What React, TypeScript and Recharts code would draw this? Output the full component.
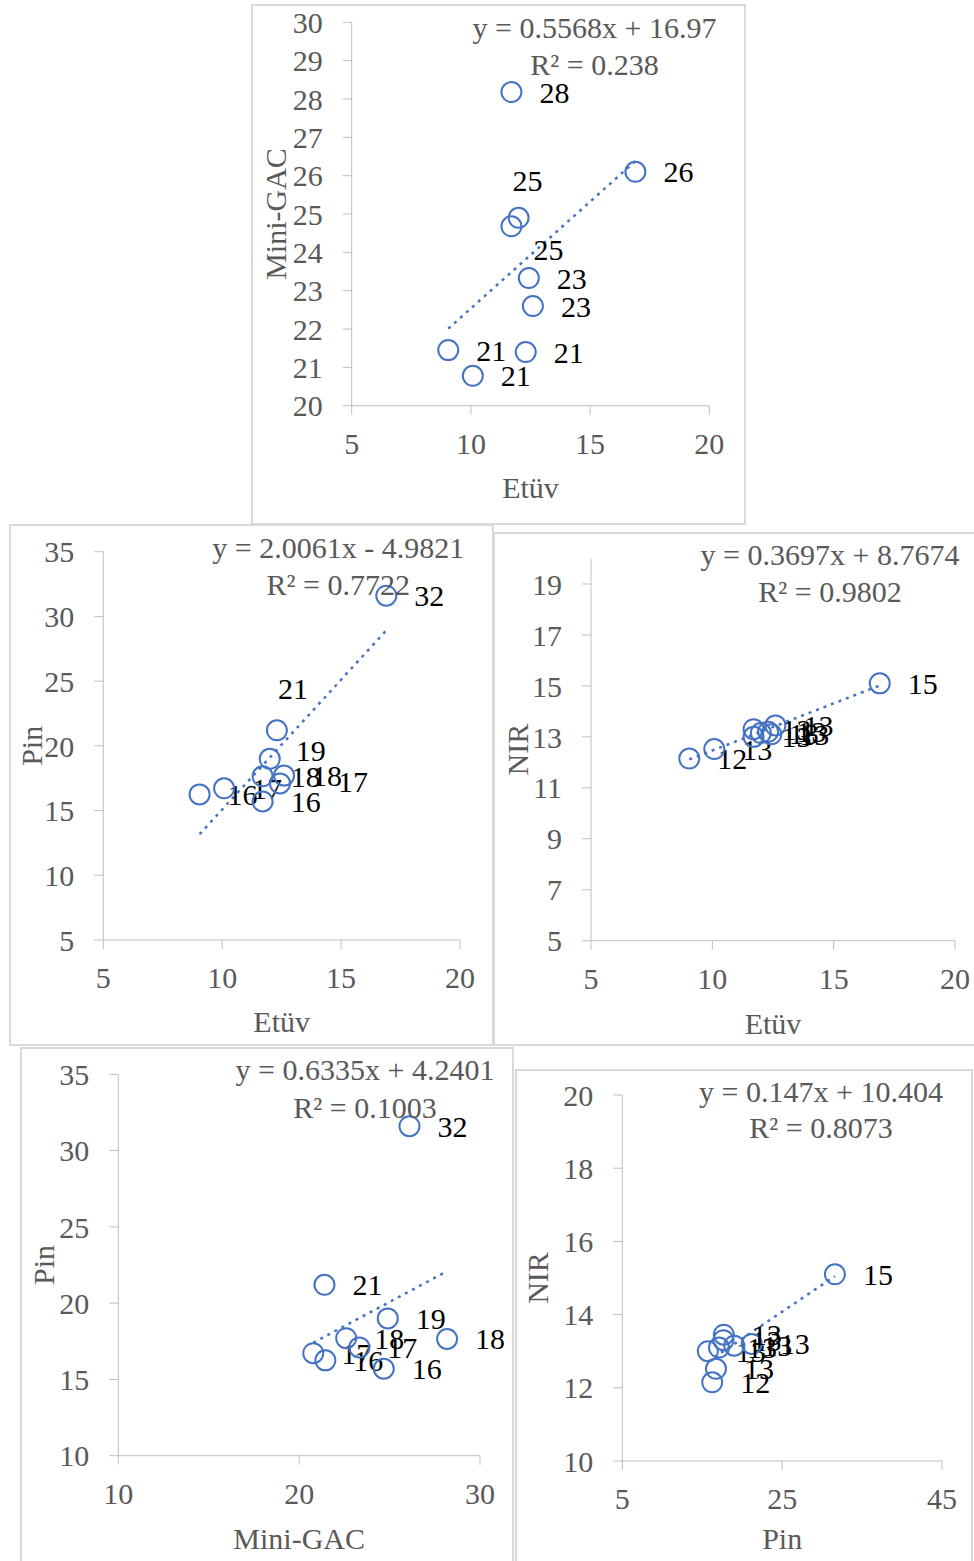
import React from "react";
import { ScatterChart, Scatter, XAxis, YAxis, ReferenceLine } from "recharts";

const FONT = "'Liberation Serif', 'Times New Roman', serif";
const FS = 30;
const BLUE = "#4472c4";
const GREY_TEXT = "#595959";
const AXIS = "#bfbfbf";
const BORDER = "#d9d9d9";

// nine samples, measured four ways
const etuv = [9.05, 10.08, 11.7, 11.7, 12.0, 12.3, 12.43, 12.6, 16.9];
const miniGac = [21.45, 20.78, 28.18, 24.68, 24.9, 21.4, 23.33, 22.6, 26.1];
const pin = [16.25, 16.72, 17.65, 15.7, 19.0, 21.2, 17.1, 17.7, 31.6];
const nir = [12.15, 12.52, 13.3, 13.0, 13.15, 13.2, 13.1, 13.45, 15.1];

// trendline equations as printed on each chart
const slopes = [0.5568, 2.0061, 0.3697, 0.6335, 0.147];
const intercepts = [16.97, -4.9821, 8.7674, 4.2401, 10.404];
const equations = [
  "y = 0.5568x + 16.97",
  "y = 2.0061x - 4.9821",
  "y = 0.3697x + 8.7674",
  "y = 0.6335x + 4.2401",
  "y = 0.147x + 10.404",
];
const rSquared = ["R² = 0.238", "R² = 0.7722", "R² = 0.9802", "R² = 0.1003", "R² = 0.8073"];

// axis ticks
const etuvTicks = [5, 10, 15, 20];
const miniGacTicksY = [20, 21, 22, 23, 24, 25, 26, 27, 28, 29, 30];
const pinTicksY = [5, 10, 15, 20, 25, 30, 35];
const nirTicksY = [5, 7, 9, 11, 13, 15, 17, 19];
const miniGacTicksX = [10, 20, 30];
const pinTicksY2 = [10, 15, 20, 25, 30, 35];
const pinTicksX = [5, 25, 45];
const nirTicksY2 = [10, 12, 14, 16, 18, 20];

type Cfg = {
  xs: number[];
  ys: number[];
  xName: string;
  yName: string;
  xTicks: number[];
  yTicks: number[];
  xDomain: [number, number];
  yDomain: [number, number];
  k: number;
  box: { l: number; t: number; w: number; h: number };
  plot: { l: number; t: number; r: number; b: number };
  xTitleOffset: number;
  yTitleOffset: number;
  eq: { cx: number; y1: number; y2: number };
  nudges: Record<number, [number, number]>;
};

const panels: Cfg[] = [
  {
    xs: etuv, ys: miniGac, xName: "Etüv", yName: "Mini-GAC",
    xTicks: etuvTicks, yTicks: miniGacTicksY, xDomain: [5, 20], yDomain: [20, 30], k: 0,
    box: { l: 251, t: 4, w: 495, h: 521 },
    plot: { l: 351.7, t: 22.3, r: 709.3, b: 405.7 },
    xTitleOffset: 8, yTitleOffset: 14,
    eq: { cx: 594.5, y1: 38, y2: 75 },
    nudges: { 3: [-6, 23], 4: [-34, -37] },
  },
  {
    xs: etuv, ys: pin, xName: "Etüv", yName: "Pin",
    xTicks: etuvTicks, yTicks: pinTicksY, xDomain: [5, 20], yDomain: [5, 35], k: 1,
    box: { l: 9, t: 524, w: 485, h: 522 },
    plot: { l: 103.3, t: 551.7, r: 460, b: 940 },
    xTitleOffset: 8, yTitleOffset: 18,
    eq: { cx: 338.3, y1: 558, y2: 595 },
    nudges: { 4: [-2, -8], 5: [-27, -42], 6: [30, -2] },
  },
  {
    xs: etuv, ys: nir, xName: "Etüv", yName: "NIR",
    xTicks: etuvTicks, yTicks: nirTicksY, xDomain: [5, 20], yDomain: [5, 20], k: 2,
    box: { l: 493, t: 532, w: 485, h: 514 },
    plot: { l: 591, t: 558.5, r: 955, b: 940.7 },
    xTitleOffset: 7, yTitleOffset: 16,
    eq: { cx: 830, y1: 565, y2: 601.5 },
    nudges: {},
  },
  {
    xs: miniGac, ys: pin, xName: "Mini-GAC", yName: "Pin",
    xTicks: miniGacTicksX, yTicks: pinTicksY2, xDomain: [10, 30], yDomain: [10, 35], k: 3,
    box: { l: 20, t: 1047, w: 494, h: 516 },
    plot: { l: 118.3, t: 1074.3, r: 480, b: 1455.7 },
    xTitleOffset: 7, yTitleOffset: 15,
    eq: { cx: 365, y1: 1080, y2: 1118 },
    nudges: {},
  },
  {
    xs: pin, ys: nir, xName: "Pin", yName: "NIR",
    xTicks: pinTicksX, yTicks: nirTicksY2, xDomain: [5, 45], yDomain: [10, 20], k: 4,
    box: { l: 515, t: 1069, w: 458, h: 494 },
    plot: { l: 622.3, t: 1095, r: 942, b: 1461 },
    xTitleOffset: 12, yTitleOffset: 5,
    eq: { cx: 821, y1: 1101.5, y2: 1138 },
    nudges: {},
  },
];

const YW = 90;
const XH = 100;

const makeShape = (nudges: Record<number, [number, number]>) => (props: any) => {
  const { cx, cy, payload } = props;
  if (cx == null || cy == null) return <g />;
  const n = nudges[payload.i] || [0, 0];
  return (
    <g>
      <circle cx={cx} cy={cy} r={10} fill="none" stroke={BLUE} strokeWidth={2} />
      <text
        x={cx + 28 + n[0]}
        y={cy + 10.5 + n[1]}
        fontSize={FS}
        fontFamily={FONT}
        fill="#000"
      >
        {Math.round(payload.y)}
      </text>
    </g>
  );
};

function Panel({ cfg }: { cfg: Cfg }) {
  const { box, plot } = cfg;
  const margin = {
    left: plot.l - box.l - YW,
    top: plot.t - box.t,
    right: box.l + box.w - plot.r,
    bottom: box.t + box.h - plot.b - XH,
  };
  const data = cfg.xs.map((x, i) => ({ x, y: cfg.ys[i], i }));
  const xMin = Math.min(...cfg.xs);
  const xMax = Math.max(...cfg.xs);
  const seg = [
    { x: xMin, y: slopes[cfg.k] * xMin + intercepts[cfg.k] },
    { x: xMax, y: slopes[cfg.k] * xMax + intercepts[cfg.k] },
  ];
  const tickStyle = { fill: GREY_TEXT, fontSize: FS, fontFamily: FONT };

  return (
    <div style={{ position: "absolute", left: box.l, top: box.t, width: box.w, height: box.h }}>
      <ScatterChart width={box.w} height={box.h} margin={margin}>
        <XAxis
          type="number"
          dataKey="x"
          domain={cfg.xDomain}
          ticks={cfg.xTicks}
          interval={0}
          height={XH}
          tickSize={9}
          tickMargin={18}
          axisLine={{ stroke: AXIS }}
          tickLine={{ stroke: AXIS }}
          tick={tickStyle}
          label={{
            value: cfg.xName,
            position: "insideBottom",
            offset: cfg.xTitleOffset,
            fill: GREY_TEXT,
            fontSize: FS,
            fontFamily: FONT,
          }}
        />
        <YAxis
          type="number"
          dataKey="y"
          domain={cfg.yDomain}
          ticks={cfg.yTicks}
          interval={0}
          width={YW}
          tickSize={9}
          tickMargin={20}
          axisLine={{ stroke: AXIS }}
          tickLine={{ stroke: AXIS }}
          tick={tickStyle}
          label={{
            value: cfg.yName,
            angle: -90,
            position: "insideLeft",
            offset: cfg.yTitleOffset,
            fill: GREY_TEXT,
            fontSize: FS,
            fontFamily: FONT,
            style: { textAnchor: "middle" },
          }}
        />
        <Scatter data={data} isAnimationActive={false} shape={makeShape(cfg.nudges)} />
        <ReferenceLine
          segment={seg}
          stroke={BLUE}
          strokeWidth={2.5}
          strokeDasharray="3 5"
          ifOverflow="visible"
        />
      </ScatterChart>
      <div
        style={{
          position: "absolute",
          inset: 0,
          border: `2px solid ${BORDER}`,
          boxSizing: "border-box",
          pointerEvents: "none",
        }}
      />
    </div>
  );
}

export default function App() {
  return (
    <div
      style={{
        position: "absolute",
        left: 0,
        top: 0,
        width: 974,
        height: 1561,
        overflow: "hidden",
        background: "#fff",
      }}
    >
      {panels.map((p) => (
        <Panel key={p.k} cfg={p} />
      ))}
      <svg
        width={974}
        height={1561}
        style={{ position: "absolute", left: 0, top: 0, pointerEvents: "none" }}
      >
        {panels.map((p) => (
          <g key={p.k} fontFamily={FONT} fontSize={FS} fill={GREY_TEXT} textAnchor="middle">
            <text x={p.eq.cx} y={p.eq.y1}>{equations[p.k]}</text>
            <text x={p.eq.cx} y={p.eq.y2}>{rSquared[p.k]}</text>
          </g>
        ))}
      </svg>
    </div>
  );
}
